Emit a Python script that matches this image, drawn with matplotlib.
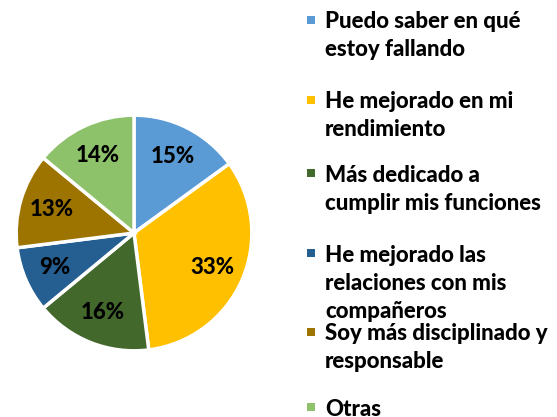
import matplotlib.pyplot as plt
from matplotlib.patches import Rectangle

labels = ["Puedo saber en qué\nestoy fallando",
          "He mejorado en mi\nrendimiento",
          "Más dedicado a\ncumplir mis funciones",
          "He mejorado las\nrelaciones con mis\ncompañeros",
          "Soy más disciplinado y\nresponsable",
          "Otras"]
values = [15, 33, 16, 9, 13, 14]
colors = ["#5B9BD5", "#FFC000", "#43682B", "#255E91", "#9E7400", "#8DC26B"]

W, H = 557, 417
fig = plt.figure(figsize=(W / 100, H / 100), dpi=100)
plt.rcParams['font.family'] = ['Lato', 'DejaVu Sans']

cx, cy, r = 134, 233, 119
ax = fig.add_axes([(cx - r) / W, (H - cy - r) / H, 2 * r / W, 2 * r / H])
wedges, texts, autotexts = ax.pie(values, colors=colors, startangle=90, counterclock=False,
                                  autopct=lambda p: "{:.0f}%".format(p), pctdistance=0.73,
                                  wedgeprops=dict(edgecolor="white", linewidth=2.5))
for t in autotexts:
    t.set_fontsize(16)
    t.set_fontweight("black")
    t.set_color("black")
ax.set_xlim(-1.01, 1.01)
ax.set_ylim(-1.01, 1.01)
ax.set_aspect("equal")

# legend drawn by hand to follow the original layout
legend_y = [20, 100, 173, 253, 332, 407]
step = 28
for lab, col, y0 in zip(labels, colors, legend_y):
    for i, line in enumerate(lab.split("\n")):
        fig.text(325 / W, 1 - (y0 + i * step) / H, line, fontsize=16, fontweight="black",
                 va="center_baseline", ha="left")
    fig.patches.append(Rectangle((307 / W, 1 - (y0 + 4) / H), 8 / W, 8 / H,
                                 facecolor=col, transform=fig.transFigure, figure=fig))

fig.savefig("out.png", dpi=100)
